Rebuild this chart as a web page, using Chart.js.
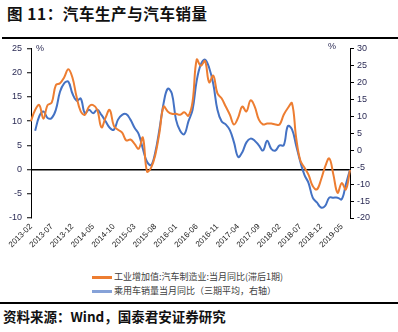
<!DOCTYPE html>
<html>
<head>
<meta charset="utf-8">
<script src="https://cdn.jsdelivr.net/npm/chart.js@4/dist/chart.umd.min.js"></script>
<style>
  body { margin: 0; background: #fff; }
  #wrap { position: relative; width: 398px; height: 332px; overflow: hidden; font-family: "Noto Sans CJK SC", sans-serif; }
  .title { position: absolute; left: 7px; top: 2px; font-size: 15.5px; font-weight: bold; color: #111; letter-spacing: 0.6px; }
  .rule { position: absolute; left: 2px; width: 396px; height: 1.5px; background: #000; }
  .src { position: absolute; left: 3px; top: 306px; font-size: 13.5px; font-weight: bold; color: #111; }
  .unit { position: absolute; font-size: 9px; color: #2b2b55; font-family: "Liberation Sans", sans-serif; }
  .leg { position: absolute; left: 92px; font-size: 9px; color: #404040; white-space: nowrap; }
  .leg i { display: inline-block; width: 20px; height: 2.5px; vertical-align: middle; margin-right: 2px; }
  canvas { position: absolute; left: 0; top: 38px; }
</style>
</head>
<body>
<div id="wrap">
  <div class="title">图 11：汽车生产与汽车销量</div>
  <div class="rule" style="top:37px"></div>
  <canvas id="chart" width="398" height="230"></canvas>
  <span class="unit" style="left:36px;top:43px">%</span>
  <span class="unit" style="left:328px;top:41px">%</span>
  <div class="leg" style="top:270px"><i style="background:#ED7D31"></i>工业增加值:汽车制造业:当月同比(滞后1期)</div>
  <div class="leg" style="top:284px"><i style="background:#86A2D8"></i>乘用车销量当月同比（三期平均，右轴）</div>
  <div class="rule" style="top:302px;left:0;width:398px"></div>
  <div class="src">资料来源：Wind，国泰君安证券研究</div>
</div>
<script>
// months 2013-02 .. 2019-07
var months = []
for (var y = 2013, m = 2; y < 2019 || m <= 7; m++) {
    if (m > 12) { m = 1; y++ }
    months.push(y + '-' + String(m).padStart(2, '0'))
}

// 工业增加值:汽车制造业:当月同比(滞后1期), left axis
var production = [10.0, 12.3, 13.3, 10.5, 13.3, 13.8, 17.4, 17.8, 19.0, 20.7,
    19.0, 15.0, 12.0, 11.3, 13.0, 13.3, 12.3, 8.7, 10.7, 12.3,
    9.0, 8.2, 7.6, 6.0, 6.2, 5.3, 4.3, 6.6, -0.4, 0.4,
    3.0, 7.6, 13.0, 12.0, 11.5, 11.5, 11.3, 11.8, 11.1, 14.0,
    22.7, 21.4, 22.4, 18.0, 19.4, 15.7, 14.7, 13.0, 11.3, 9.3,
    10.7, 13.0, 12.0, 14.3, 13.0, 10.3, 9.3, 9.5, 9.5, 9.3,
    9.3, 11.3, 12.7, 13.7, 6.6, 1.9, 0.4, -1.1, -3.4, -4.1,
    -2.1, 0.6, 2.3, -1.1, -4.8, -2.8, -4.1, -0.1]

// 乘用车销量当月同比（三期平均）, right axis
var sales = [null, 5.7, 10.0, 11.4, 9.5, 9.5, 11.9, 17.2, 19.7, 20.2,
    16.7, 14.6, 15.2, 10.9, 11.9, 10.9, 11.9, 10.4, 8.5, 6.6,
    6.0, 9.0, 10.4, 10.6, 9.0, 6.6, 4.7, 0.4, -3.4, -4.4,
    -0.6, 6.1, 13.8, 18.1, 16.7, 9.0, 5.7, 4.7, 8.5, 11.9,
    20.5, 25.3, 26.7, 24.3, 19.5, 11.9, 8.5, 7.6, 5.9, 2.3,
    -2.0, -0.6, 2.3, 3.4, 2.8, 1.4, -0.1, 2.8, 0.4, -0.1,
    1.4, 1.4, 7.1, 6.1, 1.4, -3.4, -7.3, -9.7, -14.0, -15.4,
    -16.9, -16.4, -14.0, -14.0, -14.0, -14.5, -10.1, -5.8]

var tickFont = { family: 'Liberation Sans', size: 9 }

new Chart(document.getElementById('chart'), {
    type: 'line',
    data: {
        labels: months,
        datasets: [{
            label: '工业增加值:汽车制造业:当月同比(滞后1期)',
            data: production,
            borderColor: '#ED7D31',
            borderWidth: 2,
            pointRadius: 0,
            tension: 0.4,
            yAxisID: 'y'
        },
        {
            label: '乘用车销量当月同比（三期平均，右轴）',
            data: sales,
            borderColor: '#4472C4',
            borderWidth: 2,
            pointRadius: 0,
            tension: 0.4,
            yAxisID: 'y1'
        }]
    },
    options: {
        responsive: false,
        animation: false,
        layout: { padding: { top: 6, left: 0, right: 0, bottom: 0 } },
        plugins: { legend: { display: false }, tooltip: { enabled: false } },
        scales: {
            x: {
                grid: { display: false, drawTicks: false },
                border: { display: false },
                ticks: {
                    autoSkip: false,
                    minRotation: 45,
                    maxRotation: 45,
                    padding: 4,
                    color: '#222',
                    font: { family: 'Liberation Sans', size: 8 },
                    callback: function (v, i) { return i % 5 == 0 ? months[i] : '' }
                },
                afterFit: function (s) { s.height = 50 }
            },
            y: {
                position: 'left',
                min: -10,
                max: 25,
                ticks: { stepSize: 5, color: '#2b2b55', font: tickFont, padding: 5 },
                grid: {
                    color: function (c) { return c.tick && c.tick.value === 0 ? '#000' : 'rgba(0,0,0,0)' },
                    lineWidth: 1.5,
                    tickColor: '#000',
                    tickWidth: 1,
                    tickLength: 4
                },
                border: { color: '#000', width: 1 },
                afterFit: function (s) { s.width = 31 }
            },
            y1: {
                position: 'right',
                min: -20,
                max: 30,
                ticks: { stepSize: 5, color: '#2b2b55', font: tickFont, padding: 3 },
                grid: { drawOnChartArea: false, tickColor: '#000', tickWidth: 1, tickLength: 4 },
                border: { color: '#000', width: 1 },
                afterFit: function (s) { s.width = 48 }
            }
        }
    }
});
</script>
</body>
</html>
